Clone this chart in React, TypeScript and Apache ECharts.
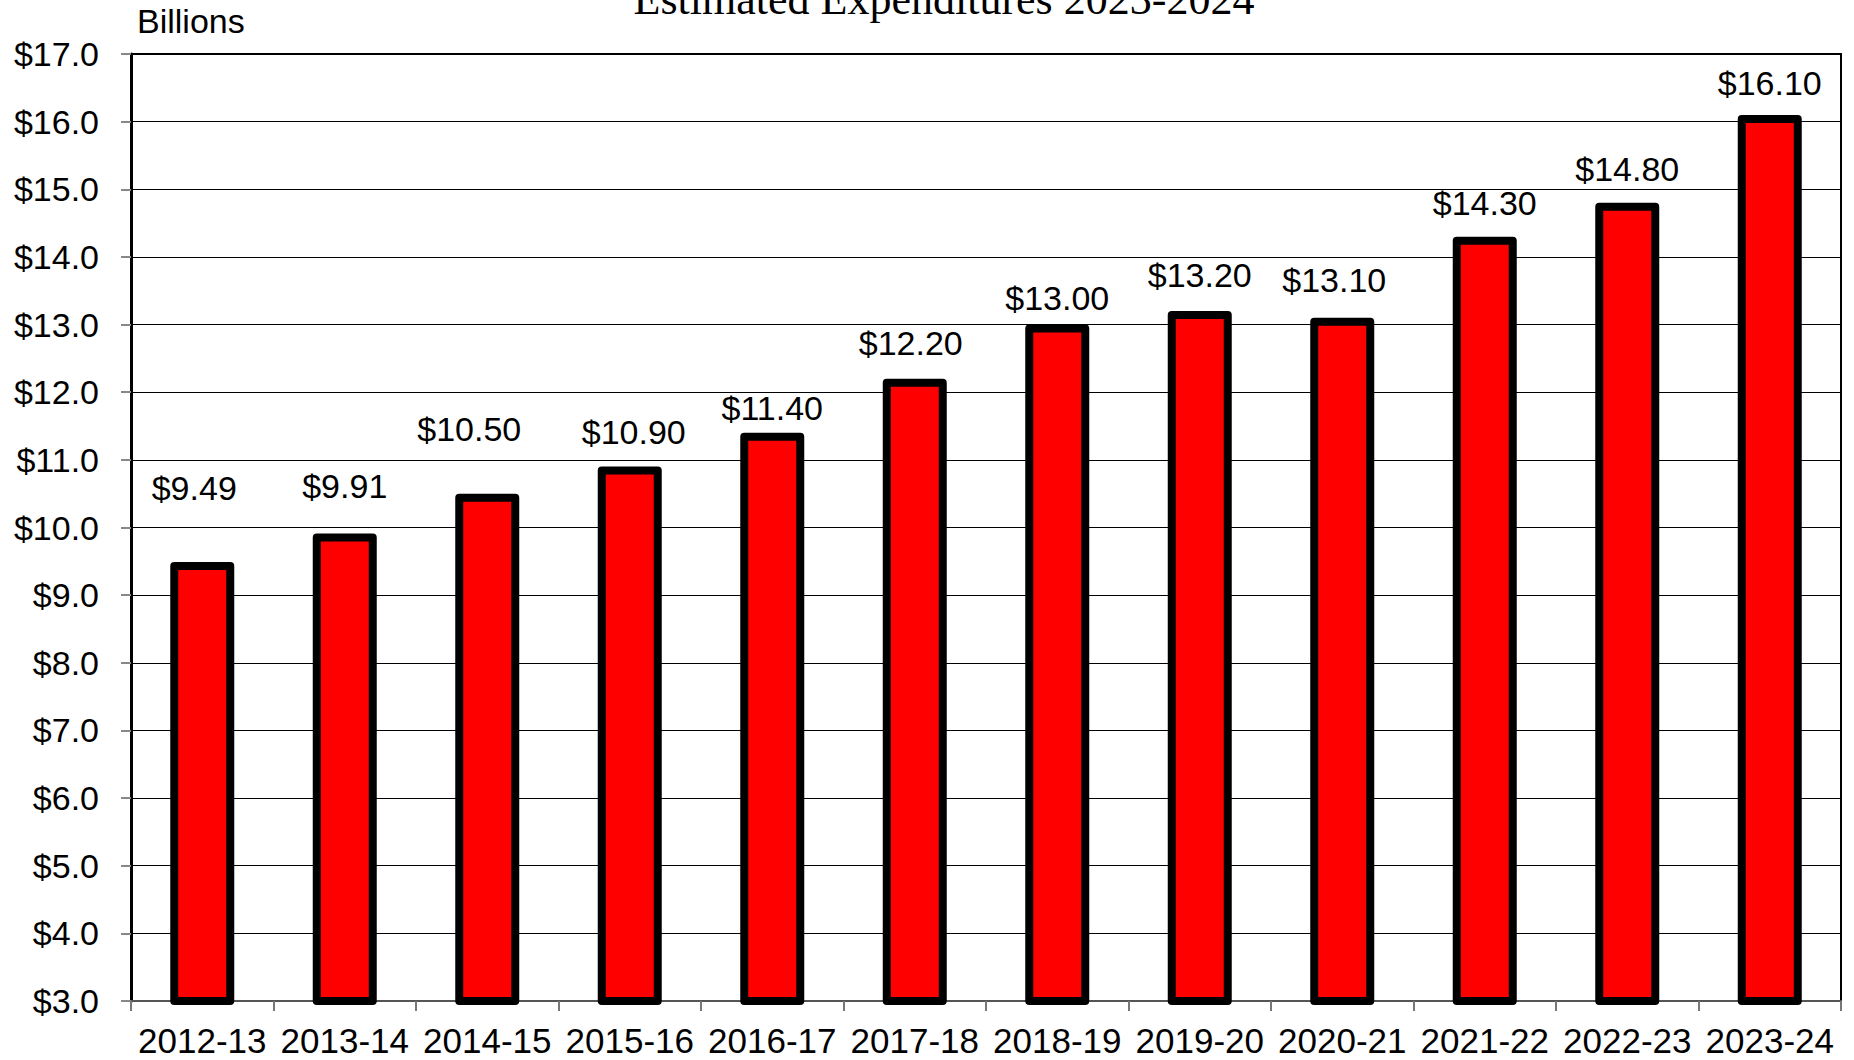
import React, { useEffect, useRef } from "react";
import * as echarts from "echarts";

const categories = [
  "2012-13", "2013-14", "2014-15", "2015-16", "2016-17", "2017-18",
  "2018-19", "2019-20", "2020-21", "2021-22", "2022-23", "2023-24",
];
const expenditures = [9.49, 9.91, 10.5, 10.9, 11.4, 12.2, 13.0, 13.2, 13.1, 14.3, 14.8, 16.1];
const valueLabels = ["$9.49", "$9.91", "$10.50", "$10.90", "$11.40", "$12.20", "$13.00", "$13.20", "$13.10", "$14.30", "$14.80", "$16.10"];
const titleText = "Estimated Expenditures 2023-2024";
const unitText = "Billions";

// label nudges (style only), [dx, dy] in px
const labelNudges: [number, number][] = [
  [-8, -40], [0, -14], [-18, -31], [4, -1], [0, 9], [-4, -2],
  [0, 7], [0, -2], [-8, -4], [0, 0], [0, 0], [0, 2],
];

export default function App() {
  const ref = useRef<HTMLDivElement>(null);
  useEffect(() => {
    if (!ref.current) return;
    const chart = echarts.init(ref.current, null, { renderer: "svg" });
    const sans = "'Liberation Sans', Arial, sans-serif";
    chart.setOption({
      animation: false,
      backgroundColor: "#ffffff",
      grid: {
        left: 131,
        right: 13,
        top: 54,
        bottom: 59,
        show: true,
        borderColor: "#000",
        borderWidth: 2,
        backgroundColor: "transparent",
        containLabel: false,
      },
      graphic: [
        {
          type: "text",
          x: 944,
          y: -1,
          style: {
            text: titleText,
            font: "44px 'Liberation Serif', 'Times New Roman', serif",
            fill: "#000",
            align: "center",
            verticalAlign: "middle",
          },
        },
        {
          type: "text",
          x: 137,
          y: 21,
          style: {
            text: unitText,
            font: `34px ${sans}`,
            fill: "#000",
            align: "left",
            verticalAlign: "middle",
          },
        },
      ],
      xAxis: {
        type: "category",
        data: categories,
        boundaryGap: true,
        axisLine: { show: true, lineStyle: { color: "#555", width: 2 } },
        axisTick: { show: true, length: 10, inside: false, lineStyle: { color: "#777", width: 2 } },
        axisLabel: {
          color: "#000",
          fontSize: 35,
          fontFamily: sans,
          margin: 22,
          interval: 0,
        },
        splitLine: { show: false },
      },
      yAxis: {
        type: "value",
        min: 3,
        max: 17,
        interval: 1,
        axisLine: { show: true, lineStyle: { color: "#000", width: 3 } },
        axisTick: { show: true, length: 10, lineStyle: { color: "#888", width: 2 } },
        axisLabel: {
          color: "#000",
          fontSize: 34,
          fontFamily: sans,
          margin: 32,
          formatter: (v: number) => `$${v.toFixed(1)}`,
        },
        splitLine: { show: true, lineStyle: { color: "#000", width: 1 } },
      },
      series: [
        {
          type: "bar",
          barWidth: 64,
          data: expenditures.map((v, i) => ({
            value: v,
            label: {
              offset: labelNudges[i],
            },
          })),
          itemStyle: {
            color: "#FF0000",
            borderColor: "#000",
            borderWidth: 8,
            borderJoin: "round",
          },
          label: {
            show: true,
            position: "top",
            distance: 17,
            color: "#000",
            fontSize: 34,
            fontFamily: sans,
            formatter: (p: any) => valueLabels[p.dataIndex],
          },
        },
      ],
    });
    return () => chart.dispose();
  }, []);
  return <div ref={ref} style={{ width: 1854, height: 1060, position: "absolute", left: 0, top: 0 }} />;
}
